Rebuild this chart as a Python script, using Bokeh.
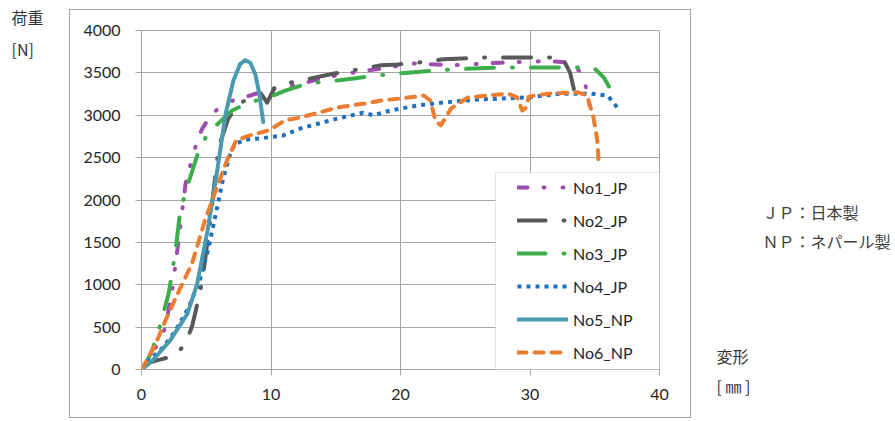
from bokeh.plotting import figure
from bokeh.models import Range1d, FixedTicker, Legend, LegendItem, Label, BoxAnnotation, InlineStyleSheet
from bokeh.embed import file_html
from bokeh.resources import INLINE

# ---------------- data (deformation [mm], load [N]) ----------------
no1_x = [0, 0.7, 1.85, 2.4, 2.86, 3.4, 3.8, 4.3, 4.7, 5.1, 5.9, 7.0, 8.4, 9.8, 11.5, 12.5, 13.8, 16.4, 19.0, 21.0,
         24.1, 27.7, 31.4, 33.0, 34.1, 34.6]
no1_y = [0, 140, 495, 970, 1520, 2190, 2430, 2700, 2845, 2940, 3080, 3170, 3233, 3300, 3350, 3375, 3434, 3505, 3563, 3610,
         3590, 3620, 3640, 3620, 3490, 3120]

no2_x = [0, 0.5, 1.5, 2.6, 3.4, 3.9, 4.2, 4.7, 5.3, 5.95, 6.7, 7.5, 8.5, 9.2, 9.7, 10.3, 11.1, 12.3, 14.8, 17.1,
         18.5, 19.8, 21.3, 23.3, 24.8, 26.2, 27.5, 29.9, 31.2, 32.5, 33.1, 33.4]
no2_y = [0, 80, 120, 165, 307, 507, 700, 1050, 1750, 2620, 2960, 3130, 3220, 3260, 3150, 3330, 3375, 3410, 3490, 3550,
         3590, 3600, 3620, 3660, 3670, 3680, 3680, 3680, 3680, 3680, 3500, 3300]

no3_x = [0, 0.5, 0.9, 1.47, 2.1, 2.6, 3.0, 3.6, 4.3, 5.1, 5.9, 7.0, 8.3, 9.8, 11.1, 12.8, 15.1, 16.4, 18.2, 20.8,
         23.9, 27.5, 31.0, 34.9, 35.7, 36.1]
no3_y = [0, 120, 260, 540, 900, 1370, 1880, 2190, 2525, 2785, 2900, 3056, 3150, 3210, 3290, 3375, 3410, 3434, 3470, 3505,
         3540, 3563, 3563, 3563, 3445, 3340]

no4_x = [0, 0.5, 1.6, 2.6, 3.6, 4.5, 5.2, 5.8, 6.3, 6.8, 7.2, 8.0, 9.3, 10.9, 12.3, 15.1, 17.1, 17.9, 19.2, 21.3,
         23.3, 25.9, 29.8, 32.4, 34.7, 36.0, 36.8]
no4_y = [0, 100, 250, 450, 720, 1050, 1450, 1880, 2250, 2520, 2660, 2710, 2730, 2760, 2845, 2960, 3030, 3000, 3055, 3115,
         3150, 3185, 3210, 3255, 3255, 3230, 3080]

no5_x = [0, 0.5, 1.0, 2.2, 3.55, 4.3, 5.1, 5.85, 6.5, 7.1, 7.6, 8.0, 8.4, 8.8, 9.1, 9.4]
no5_y = [0, 60, 130, 340, 660, 1010, 1640, 2350, 3020, 3410, 3600, 3650, 3620, 3480, 3250, 2920]

no6_x = [0, 0.5, 1.1, 1.85, 2.9, 3.9, 4.9, 5.95, 6.6, 7.3, 8.3, 9.8, 11.1, 12.3, 15.1, 17.7, 18.5, 21.3, 21.8, 22.3,
         22.7, 23.1, 23.5, 23.9, 25.2, 28.3, 29.0, 29.4, 29.7, 29.9, 31.4, 33.7, 34.4, 34.9, 35.2, 35.3]
no6_y = [0, 130, 305, 578, 930, 1250, 1760, 2200, 2465, 2700, 2760, 2820, 2940, 2975, 3090, 3150, 3174, 3220, 3233, 3174,
         2940, 2880, 2975, 3080, 3210, 3255, 3210, 3056, 3090, 3220, 3255, 3270, 3233, 2975, 2700, 2430]

series_names = ["No1_JP", "No2_JP", "No3_JP", "No4_JP", "No5_NP", "No6_NP"]
series_x = [no1_x, no2_x, no3_x, no4_x, no5_x, no6_x]
series_y = [no1_y, no2_y, no3_y, no4_y, no5_y, no6_y]

x_ticks = [0, 10, 20, 30, 40]
y_ticks = [0, 500, 1000, 1500, 2000, 2500, 3000, 3500, 4000]

y_title = "荷重\n[N]"
x_title = "変形\n[ ㎜ ]"
note_text = "ＪＰ：日本製\nＮＰ：ネパール製"

# ---------------- styles ----------------
colors = ["#9C4DAD", "#595959", "#3DAE4C", "#1F6FC0", "#4A9BB0", "#EC7C30"]
dashes = ["10 16 1 18 1 16", "28 18 1 18", "28 18 1 18", "4 5", "solid", "9 8"]
caps = ["round", "round", "round", "butt", "round", "round"]

GRID = "#A6A6A6"
TXT = "#262626"
FONT = "Lato"
JFONT = "Noto Sans CJK JP"

frame_css = InlineStyleSheet(css="""
:host::after {
  content: "";
  position: absolute;
  left: 69px; top: 9px;
  width: 622px; height: 409px;
  box-sizing: border-box;
  border: 1px solid #A6A6A6;
  pointer-events: none;
  z-index: 10;
}
""")

p = figure(width=895, height=421, output_backend="svg", toolbar_location=None,
           x_range=Range1d(0, 40), y_range=Range1d(0, 4000),
           min_border_left=141, min_border_right=236, min_border_top=30, min_border_bottom=52,
           background_fill_color="white", border_fill_color="white")
p.stylesheets = [frame_css]

p.outline_line_color = GRID
p.outline_line_width = 1

p.xaxis.ticker = FixedTicker(ticks=x_ticks)
p.yaxis.ticker = FixedTicker(ticks=y_ticks)
p.xgrid.ticker = FixedTicker(ticks=x_ticks)
p.ygrid.ticker = FixedTicker(ticks=y_ticks)
for g in (p.xgrid, p.ygrid):
    g.grid_line_color = GRID
    g.grid_line_width = 1

for ax in (p.xaxis, p.yaxis):
    ax.axis_line_color = GRID
    ax.major_tick_line_color = GRID
    ax.minor_tick_line_color = None
    ax.major_tick_in = 0
    ax.major_tick_out = 6
    ax.major_label_text_font = FONT
    ax.major_label_text_font_size = "16px"
    ax.major_label_text_color = TXT
p.yaxis.major_label_standoff = 15
p.xaxis.major_label_standoff = 13

renderers = []
for xs, ys, c, d, cap in zip(series_x, series_y, colors, dashes, caps):
    r = p.line(xs, ys, line_color=c, line_width=4, line_dash=d, line_cap=cap, line_join="round")
    renderers.append(r)

# legend frame (white box with grey border) in the lower right of the plot area
legend_box = BoxAnnotation(left=354, right=518, bottom=0, top=197,
                           left_units="screen", right_units="screen",
                           bottom_units="screen", top_units="screen",
                           fill_color="white", fill_alpha=1.0,
                           line_color=GRID, line_width=1)
p.add_layout(legend_box)

legend = Legend(items=[LegendItem(label=n, renderers=[r]) for n, r in zip(series_names, renderers)],
                location=(370, 1), orientation="vertical",
                glyph_width=51, glyph_height=20, label_height=20, label_standoff=5,
                spacing=13, padding=6, margin=0,
                border_line_alpha=0, background_fill_alpha=0,
                label_text_font=FONT, label_text_font_size="16px", label_text_color=TXT)
p.add_layout(legend)

def lab(x, y, t, lh, place, color="#333333"):
    p.add_layout(Label(x=x, y=y, x_units="canvas", y_units="canvas", text=t,
                       text_font=JFONT, text_font_size="16px", text_color=color,
                       text_line_height=lh, text_align="left", text_baseline="middle"), place)

lab(11, 32.5, y_title, 1.34, "left")
lab(716, 370.5, x_title, 1.25, "right")
lab(762, 226, note_text, 1.21, "right", color="#404040")

open("out.html", "w").write(file_html(p, INLINE))
